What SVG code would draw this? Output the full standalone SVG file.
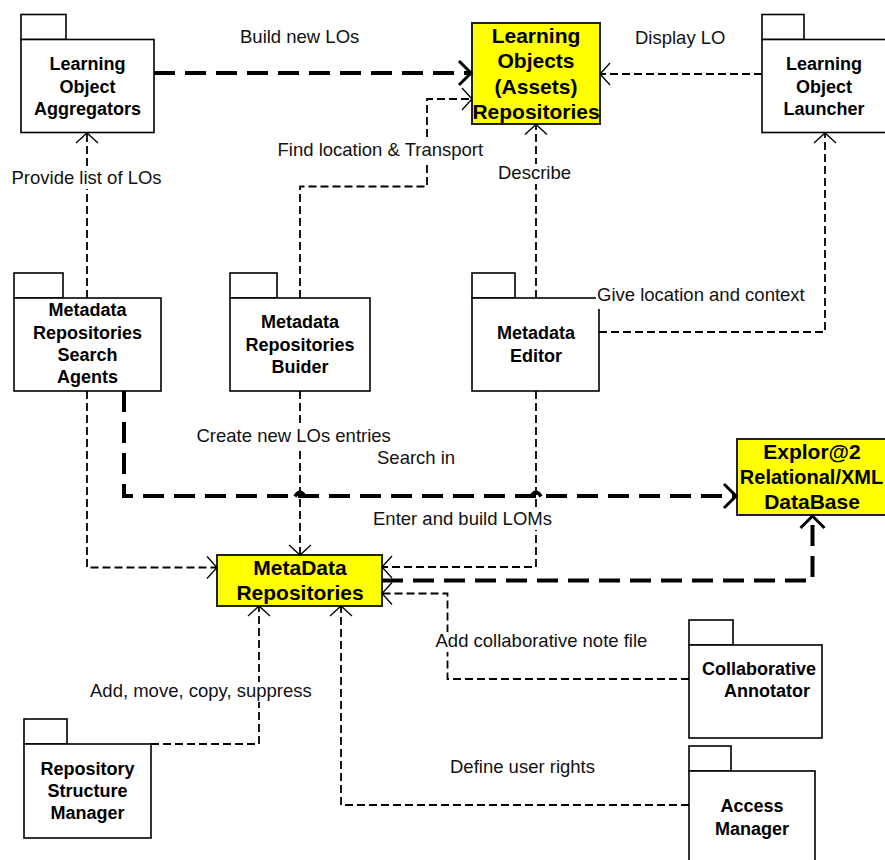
<svg xmlns="http://www.w3.org/2000/svg" width="885" height="860" viewBox="0 0 885 860">
<defs>
<style>
.box{fill:#fff;stroke:#000;stroke-width:1.6}
.yel{fill:#ffff00;stroke:#222;stroke-width:2}
.nt{font-family:"Liberation Sans",Arial,sans-serif;font-weight:bold;font-size:18px;text-anchor:middle;fill:#000}
.yt{font-family:"Liberation Sans",Arial,sans-serif;font-weight:bold;font-size:21px;text-anchor:middle;fill:#000}
.lb{font-family:"Liberation Sans",Arial,sans-serif;font-size:18.5px;fill:#111}
.thin{fill:none;stroke:#000;stroke-width:1.8;stroke-dasharray:8 4}
.thick{fill:none;stroke:#000;stroke-width:4;stroke-dasharray:21 10}
.bg{fill:#fff}
</style>
<marker id="a" markerUnits="userSpaceOnUse" markerWidth="30" markerHeight="30" viewBox="-15 -15 30 30" refX="0" refY="0" orient="auto">
<path d="M-10,-11 L0,0 L-10,11" fill="none" stroke="#000" stroke-width="1.3" stroke-dasharray="none"/>
</marker>
<marker id="A" markerUnits="userSpaceOnUse" markerWidth="34" markerHeight="34" viewBox="-17 -17 34 34" refX="0" refY="0" orient="auto">
<path d="M-12,-12 L0,0 L-12,12" fill="none" stroke="#000" stroke-width="3" stroke-dasharray="none"/>
</marker>
</defs>
<rect width="885" height="860" fill="#fff"/>

<g id="aggregators">
<rect class="box" x="21" y="14.5" width="45" height="25"/>
<rect class="box" x="21" y="39.5" width="133" height="93"/>
<text class="nt" x="87.5" y="70">Learning</text>
<text class="nt" x="87.5" y="92.5">Object</text>
<text class="nt" x="87.5" y="114.5">Aggregators</text>
</g>
<g id="lo-repositories">
<rect class="yel" x="472" y="23" width="128" height="101"/>
<text class="yt" x="536" y="43">Learning</text>
<text class="yt" x="536" y="68">Objects</text>
<text class="yt" x="536" y="93.5">(Assets)</text>
<text class="yt" x="536" y="118.5">Repositories</text>
</g>
<g id="launcher">
<rect class="box" x="762" y="14.5" width="42" height="25"/>
<rect class="box" x="762" y="39.5" width="124" height="93"/>
<text class="nt" x="824" y="70">Learning</text>
<text class="nt" x="824" y="92.5">Object</text>
<text class="nt" x="824" y="114.5">Launcher</text>
</g>
<g id="search-agents">
<rect class="box" x="14" y="273" width="49" height="25"/>
<rect class="box" x="14" y="298" width="147" height="93"/>
<text class="nt" x="87.5" y="316">Metadata</text>
<text class="nt" x="87.5" y="338.5">Repositories</text>
<text class="nt" x="87.5" y="361">Search</text>
<text class="nt" x="87.5" y="383">Agents</text>
</g>
<g id="builder">
<rect class="box" x="230" y="273" width="47" height="25"/>
<rect class="box" x="230" y="298" width="140" height="93"/>
<text class="nt" x="300" y="328">Metadata</text>
<text class="nt" x="300" y="350.5">Repositories</text>
<text class="nt" x="300" y="372.5">Buider</text>
</g>
<g id="editor">
<rect class="box" x="472" y="273" width="43" height="25"/>
<rect class="box" x="472" y="298" width="127" height="93"/>
<text class="nt" x="536" y="339">Metadata</text>
<text class="nt" x="536" y="361.5">Editor</text>
</g>
<g id="metadata-repositories">
<rect class="yel" x="217" y="555" width="165" height="51"/>
<text class="yt" x="300" y="574.5">MetaData</text>
<text class="yt" x="300" y="600">Repositories</text>
</g>
<g id="explor-db">
<rect class="yel" x="737" y="439" width="152" height="76"/>
<text class="yt" x="812" y="459">Explor@2</text>
<text class="yt" x="811.5" y="483.5" style="font-size:20px">Relational/XML</text>
<text class="yt" x="812" y="509">DataBase</text>
</g>
<g id="collaborative-annotator">
<rect class="box" x="689" y="620" width="44" height="25"/>
<rect class="box" x="689" y="645" width="133" height="93"/>
<text class="nt" x="759" y="675">Collaborative</text>
<text class="nt" x="767" y="697">Annotator</text>
</g>
<g id="access-manager">
<rect class="box" x="689" y="746" width="42" height="25"/>
<rect class="box" x="689" y="771" width="126" height="100"/>
<text class="nt" x="752" y="812">Access</text>
<text class="nt" x="752" y="835">Manager</text>
</g>
<g id="structure-manager">
<rect class="box" x="24" y="719" width="43" height="25"/>
<rect class="box" x="24" y="744" width="127" height="94"/>
<text class="nt" x="87.5" y="775">Repository</text>
<text class="nt" x="87.5" y="797">Structure</text>
<text class="nt" x="87.5" y="819">Manager</text>
</g>

<g id="connectors">
<path class="thick" d="M154 73 H471" marker-end="url(#A)"/>
<path class="thin" d="M762 74 H600" marker-end="url(#a)"/>
<path class="thin" d="M87 298 V133" marker-end="url(#a)"/>
<path class="thin" d="M300 298 V186.5 H427 V99 H472" marker-end="url(#a)"/>
<path class="thin" d="M536 298 V124.5" marker-end="url(#a)"/>
<path class="thin" d="M599 332 H825 V133" marker-end="url(#a)"/>
<path class="thin" d="M300 391 V555" marker-end="url(#a)"/>
<path class="thin" d="M87 391 V567.5 H217" marker-end="url(#a)"/>
<path class="thin" d="M536 391 V567 H382" marker-end="url(#a)"/>
<path class="thin" d="M689 679 H447.5 V593.5 H382" marker-end="url(#a)"/>
<path class="thin" d="M151 744 H259 V606" marker-end="url(#a)"/>
<path class="thin" d="M689 805 H341 V606" marker-end="url(#a)"/>
<path class="thick" d="M124 391 V496 H736" marker-end="url(#A)"/>
<path d="M295 496.5 Q300 488 305 496.5" fill="none" stroke="#000" stroke-width="3.5"/>
<path d="M531 496.5 Q536 488 541 496.5" fill="none" stroke="#000" stroke-width="3.5"/>
<path class="thick" d="M382 580.5 H812.5 V516" marker-end="url(#A)"/>

<rect class="bg" x="238" y="28" width="124" height="20"/>
<text class="lb" x="240" y="43">Build new LOs</text>
<rect class="bg" x="633" y="28" width="95" height="20"/>
<text class="lb" x="635" y="43.5">Display LO</text>
<rect class="bg" x="10" y="169" width="154" height="20"/>
<text class="lb" x="11.5" y="184">Provide list of LOs</text>
<rect class="bg" x="276" y="141" width="210" height="20"/>
<text class="lb" x="277.5" y="155.5">Find location &amp; Transport</text>
<rect class="bg" x="497" y="164" width="76" height="20"/>
<text class="lb" x="498" y="179">Describe</text>
<rect class="bg" x="596" y="283" width="211" height="26"/>
<text class="lb" x="597" y="300.5">Give location and context</text>
<rect class="bg" x="195" y="427" width="197" height="20"/>
<text class="lb" x="196.5" y="441.5">Create new LOs entries</text>
<text class="lb" x="377" y="464">Search in</text>
<rect class="bg" x="371" y="510" width="182" height="20"/>
<text class="lb" x="373" y="525">Enter and build LOMs</text>
<rect class="bg" x="434" y="632" width="215" height="20"/>
<text class="lb" x="435.5" y="647">Add collaborative note file</text>
<rect class="bg" x="88" y="682" width="227" height="20"/>
<text class="lb" x="90" y="697">Add, move, copy, suppress</text>
<text class="lb" x="450" y="773">Define user rights</text>
</g>
</svg>
